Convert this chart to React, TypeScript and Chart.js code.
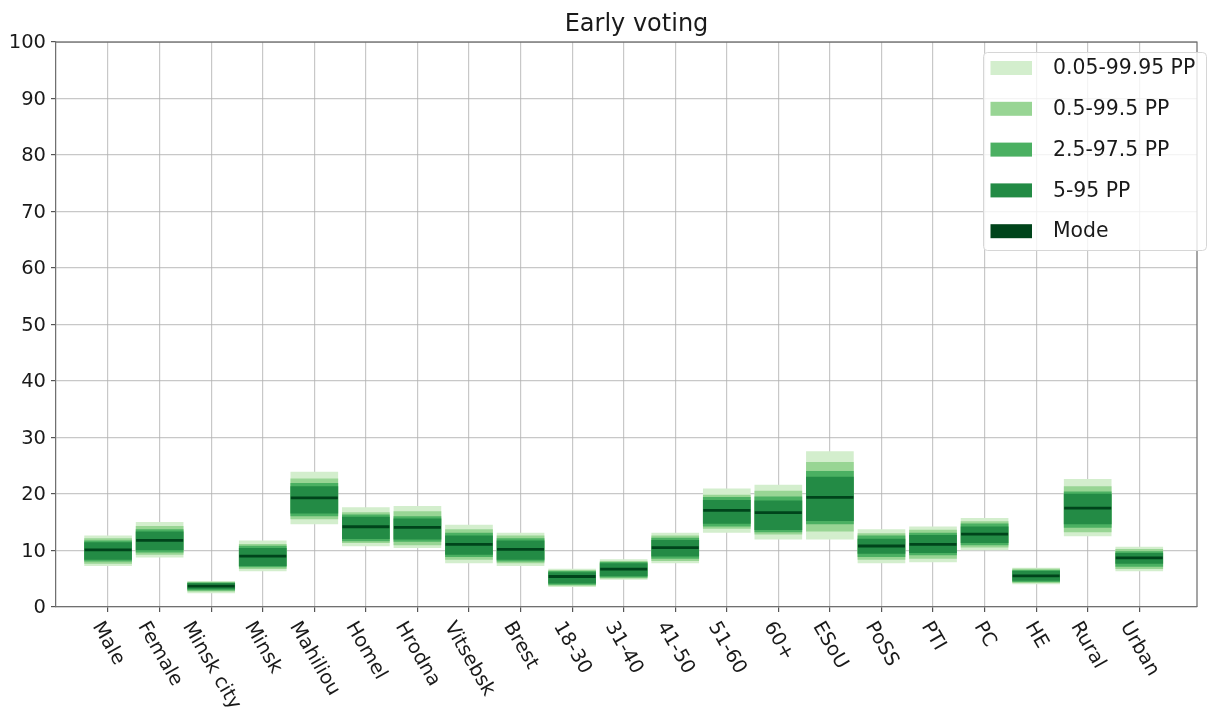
import React, { useEffect, useRef } from "react";
import { Chart, registerables } from "chart.js";

Chart.register(...registerables);

const categories = ["Male", "Female", "Minsk city", "Minsk", "Mahiliou", "Homel", "Hrodna", "Vitsebsk", "Brest", "18-30", "31-40", "41-50", "51-60", "60+", "ESoU", "PoSS", "PTI", "PC", "HE", "Rural", "Urban"];

const modeValues = [10.1, 11.8, 3.7, 9.0, 19.3, 14.2, 14.1, 11.1, 10.2, 5.4, 6.7, 10.5, 17.1, 16.7, 19.4, 10.8, 11.1, 12.9, 5.5, 17.5, 8.7];

const hi9995 = [12.6, 15.0, 4.5, 11.7, 23.9, 17.6, 17.8, 14.5, 13.1, 6.7, 8.4, 13.1, 20.9, 21.6, 27.5, 13.7, 14.2, 15.7, 6.9, 22.6, 10.6];
const lo9995 = [7.3, 8.8, 2.5, 6.4, 14.7, 10.8, 10.5, 7.8, 7.3, 3.6, 4.9, 7.8, 13.2, 12.0, 12.0, 7.8, 8.0, 10.1, 4.1, 12.6, 6.4];

const hi995 = [12.1, 14.3, 4.4, 11.1, 22.7, 16.7, 16.9, 13.7, 12.6, 6.5, 8.1, 12.6, 19.8, 20.5, 25.6, 13.0, 13.6, 15.1, 6.7, 21.3, 10.2];
const lo995 = [7.7, 9.3, 2.8, 6.8, 15.6, 11.4, 11.0, 8.4, 7.8, 3.8, 5.1, 8.2, 13.9, 12.9, 13.4, 8.4, 8.6, 10.6, 4.3, 13.3, 6.8];

const hi975 = [11.7, 13.7, 4.3, 10.8, 21.9, 16.3, 16.0, 13.1, 12.1, 6.3, 7.9, 12.2, 19.4, 19.5, 24.0, 12.6, 13.1, 14.7, 6.5, 20.4, 9.8];
const lo975 = [8.1, 9.7, 3.0, 7.1, 16.1, 11.7, 11.6, 8.9, 8.1, 4.0, 5.3, 8.6, 14.3, 13.3, 14.7, 8.9, 9.2, 11.0, 4.5, 14.1, 7.2];

const hi95 = [11.4, 13.3, 4.2, 10.4, 21.3, 15.9, 15.6, 12.6, 11.7, 6.1, 7.7, 11.8, 18.9, 18.8, 23.0, 12.0, 12.7, 14.2, 6.3, 20.0, 9.5];
const lo95 = [8.4, 10.1, 3.2, 7.3, 16.6, 12.1, 12.0, 9.3, 8.4, 4.2, 5.5, 9.0, 14.8, 13.7, 15.3, 9.5, 9.6, 11.4, 4.7, 14.7, 7.7];

const yTicks = [0, 10, 20, 30, 40, 50, 60, 70, 80, 90, 100];
const titleText = "Early voting";
const bandLabels = ["0.05-99.95 PP", "0.5-99.5 PP", "2.5-97.5 PP", "5-95 PP"];
const modeLabel = "Mode";
const bandColors = ["#d3eecd", "#98d594", "#4bb062", "#238b45"];
const modeColor = "#00441b";

const FONT = "'DejaVu Sans', sans-serif";
const TEXT = "#1a1a1a";
const GRID = "rgba(176,176,176,0.7)";

const decorPlugin = {
  id: "decor",
  afterDraw(chart: any) {
    const ctx = chart.ctx as CanvasRenderingContext2D;
    const area = chart.chartArea;
    const xs = chart.scales.x;
    const ys = chart.scales.y;
    ctx.save();
    ctx.strokeStyle = "#707070";
    ctx.lineWidth = 1.25;
    ctx.beginPath();
    ctx.moveTo(area.left, area.top);
    ctx.lineTo(area.right, area.top);
    ctx.lineTo(area.right, area.bottom);
    ctx.stroke();

    ctx.fillStyle = TEXT;
    ctx.font = `24px ${FONT}`;
    ctx.textAlign = "center";
    ctx.textBaseline = "alphabetic";
    ctx.fillText(titleText, 636.5, 31);

    ctx.font = `19.5px ${FONT}`;
    ctx.textAlign = "right";
    ctx.textBaseline = "middle";
    yTicks.forEach((v) => {
      ctx.fillText(String(v), area.left - 10, ys.getPixelForValue(v) + 1);
    });

    const fs = 19.5;
    const h = fs * 1.164;
    const s = Math.sin(Math.PI / 3);
    const c = Math.cos(Math.PI / 3);
    ctx.textAlign = "left";
    ctx.textBaseline = "alphabetic";
    categories.forEach((lab, i) => {
      const X = xs.getPixelForValue(i);
      const w = ctx.measureText(lab).width;
      const ox = X - (c * w - s * h) / 2 + 1.5;
      const oy = area.bottom + 10;
      ctx.save();
      ctx.translate(ox, oy);
      ctx.rotate(Math.PI / 3);
      ctx.fillText(lab, 0, fs * 0.928);
      ctx.restore();
    });

    const lx = 983.5, ly = 52.5, lw = 223, lh = 198;
    ctx.beginPath();
    (ctx as any).roundRect(lx, ly, lw, lh, 4);
    ctx.fillStyle = "rgba(255,255,255,0.8)";
    ctx.fill();
    ctx.strokeStyle = "#d6d6d6";
    ctx.lineWidth = 1;
    ctx.stroke();
    const labels = [...bandLabels, modeLabel];
    const colors = [...bandColors, modeColor];
    ctx.font = `20.4px ${FONT}`;
    ctx.textAlign = "left";
    ctx.textBaseline = "middle";
    labels.forEach((lab, i) => {
      const cy = 68 + i * 40.8;
      ctx.fillStyle = colors[i];
      ctx.fillRect(990.5, cy - 7, 41.5, 14);
      ctx.fillStyle = TEXT;
      ctx.fillText(lab, 1053, cy + 1);
    });
    ctx.restore();
  },
};

export default function App() {
  const ref = useRef<HTMLCanvasElement | null>(null);
  useEffect(() => {
    document.body.style.margin = "0";
    const canvas = ref.current!;
    const los = [lo9995, lo995, lo975, lo95];
    const his = [hi9995, hi995, hi975, hi95];
    const bandSets = bandLabels.map((label, k) => ({
      type: "bar" as const,
      label,
      data: categories.map((_, i) => ({ x: i, y: [los[k][i], his[k][i]] })),
      backgroundColor: bandColors[k],
      borderWidth: 0,
      barThickness: 47,
      grouped: false,
      order: 10 - k,
    }));
    const modeSet = {
      type: "line" as const,
      label: modeLabel,
      data: categories.map((_, i) => ({ x: i, y: modeValues[i] })),
      showLine: false,
      pointStyle: "line",
      pointRadius: 23.5,
      pointHoverRadius: 23.5,
      pointBorderWidth: 2.8,
      pointBorderColor: modeColor,
      borderColor: modeColor,
      backgroundColor: modeColor,
      order: 1,
    };
    const chart = new Chart(canvas, {
      type: "bar",
      data: { datasets: [...bandSets, modeSet] as any },
      options: {
        animation: false,
        responsive: false,
        layout: { padding: { left: 0, right: 16, top: 42, bottom: 0 }, autoPadding: false },
        plugins: { legend: { display: false }, title: { display: false }, tooltip: { enabled: false } },
        events: [],
        scales: {
          x: {
            type: "linear",
            min: -1.01,
            max: 21.12,
            offset: false,
            z: 1,
            afterFit(scale: any) { scale.height = 105; },
            afterBuildTicks(scale: any) { scale.ticks = categories.map((_, i) => ({ value: i })); },
            ticks: { display: false },
            grid: { offset: false, color: GRID, lineWidth: 1.2, tickColor: "#555", tickLength: 5, drawTicks: true },
            border: { display: true, color: "#707070", width: 1.25 },
          },
          y: {
            min: 0,
            max: 100,
            z: 1,
            afterFit(scale: any) { scale.width = 56; },
            afterBuildTicks(scale: any) { scale.ticks = yTicks.map((v) => ({ value: v })); },
            ticks: { display: false },
            grid: { color: GRID, lineWidth: 1.2, tickColor: "#555", tickLength: 5, drawTicks: true },
            border: { display: true, color: "#707070", width: 1.25 },
          },
        },
      } as any,
      plugins: [decorPlugin],
    });
    return () => chart.destroy();
  }, []);
  return <canvas ref={ref} width={1213} height={712} style={{ display: "block" }} />;
}
